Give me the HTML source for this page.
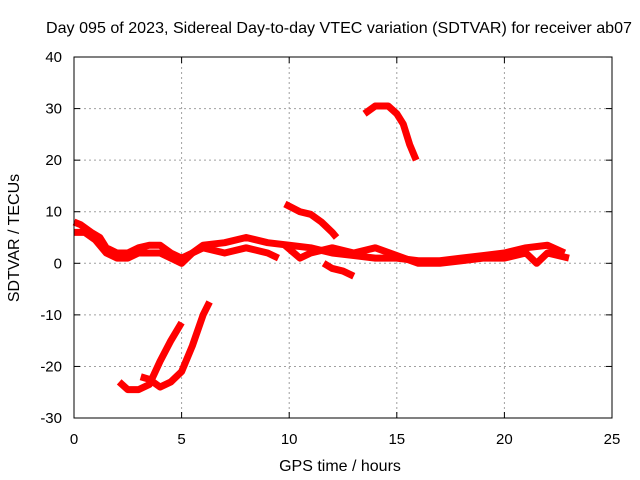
<!DOCTYPE html>
<html><head><meta charset="utf-8"><style>
body{margin:0;background:#fff}
svg{display:block;font-family:"Liberation Sans",sans-serif}
</style></head><body>
<svg id="c" width="640" height="480">
<rect width="640" height="480" fill="#fff"/>
<text x="339" y="33" text-anchor="middle" font-size="16" textLength="586" lengthAdjust="spacingAndGlyphs">Day 095 of 2023, Sidereal Day-to-day VTEC variation (SDTVAR) for receiver ab07</text>
<text x="340" y="471" text-anchor="middle" font-size="16">GPS time / hours</text>
<text transform="translate(19,238) rotate(-90)" text-anchor="middle" font-size="16">SDTVAR / TECUs</text>
<g id="grid"></g><g id="marks"></g><g id="axes"></g>
</svg>
<script>
const xTicks=[0,5,10,15,20,25];
const yTicks=[-30,-20,-10,0,10,20,30,40];
const s1x=[0,0.3,0.8,1.2,1.5,2,2.5,3,3.5,4,4.5,5,5.5,6,7,8,9,10,11,12,13,14,15,16,17,18,19,20,21,22,22.8];
const s1y=[8,7.5,6,5,3,2,2,3,3.5,3.5,2,1,2,3.5,4,5,4,3.5,3,2,1.5,1,1,0.5,0.5,1,1.5,2,3,3.5,2];
const s2x=[0,0.5,1,1.5,2,2.5,3,4,4.5,5,5.5,6,7,8,9,9.5];
const s2y=[6,6,4.5,2,1,1,2,2,1,0,2,3,2,3,2,1];
const s3x=[9.8,10.5,11,12,13,14,15,16,17,18,19,20,21,21.5,22,23];
const s3y=[3.5,1,2,3,2,3,1.5,0,0,0.5,1,1,2,0,2,1];
const s4x=[9.8,10.5,11,11.5,12,12.2];
const s4y=[11.5,10,9.5,8,6,5];
const s5x=[11.6,12,12.5,13];
const s5y=[0,-1,-1.5,-2.5];
const s6x=[13.5,14,14.6,15,15.3,15.6,15.9];
const s6y=[29,30.5,30.5,29,27,23,20];
const s7x=[2.1,2.5,3,3.5,4,4.5,5];
const s7y=[-23,-24.5,-24.5,-23.5,-19,-15,-11.5];
const s8x=[3.1,3.5,4,4.5,5,5.5,6,6.3];
const s8y=[-22,-22.5,-24,-23,-21,-16,-10,-7.5];
const X=v=>74+v*(538/25), Y=v=>263.3-v*5.157;
const NS='http://www.w3.org/2000/svg';
function mk(t,a,p){const e=document.createElementNS(NS,t);for(const k in a)e.setAttribute(k,a[k]);document.getElementById(p).appendChild(e);return e;}
xTicks.forEach(t=>{
 if(t>0&&t<25){const g=mk('line',{x1:X(t),x2:X(t),y1:57,y2:418,stroke:'#a0a0a0','stroke-dasharray':'2,3'},'grid');
 
 }
 const l=mk('text',{x:X(t),y:444,'text-anchor':'middle','font-size':15},'axes');l.textContent=t;
 
 
 mk('line',{x1:X(t),x2:X(t),y1:418,y2:412,stroke:'#000'},'axes');
 mk('line',{x1:X(t),x2:X(t),y1:57,y2:63,stroke:'#000'},'axes');
});
yTicks.forEach(t=>{
 if(t>-30&&t<40){const g=mk('line',{x1:74,x2:612,y1:Y(t),y2:Y(t),stroke:'#a0a0a0','stroke-dasharray':'2,3'},'grid');
 
 }
 const l=mk('text',{x:62,y:Y(t)+5,'text-anchor':'end','font-size':15},'axes');l.textContent=t;
 
 
 mk('line',{x1:74,x2:80,y1:Y(t),y2:Y(t),stroke:'#000'},'axes');
 mk('line',{x1:612,x2:606,y1:Y(t),y2:Y(t),stroke:'#000'},'axes');
});
const fr=mk('rect',{x:74,y:57,width:538,height:361,fill:'none',stroke:'#000'},'axes');


[[s1x,s1y],[s2x,s2y],[s3x,s3y],[s4x,s4y],[s5x,s5y],[s6x,s6y],[s7x,s7y],[s8x,s8y]].forEach((s,i)=>{
 const p=mk('polyline',{points:s[0].map((x,j)=>X(x)+','+Y(s[1][j])).join(' '),fill:'none',stroke:'#f00','stroke-width':7,'stroke-linejoin':'round'},'marks');
 
 
});
</script>
</body></html>
